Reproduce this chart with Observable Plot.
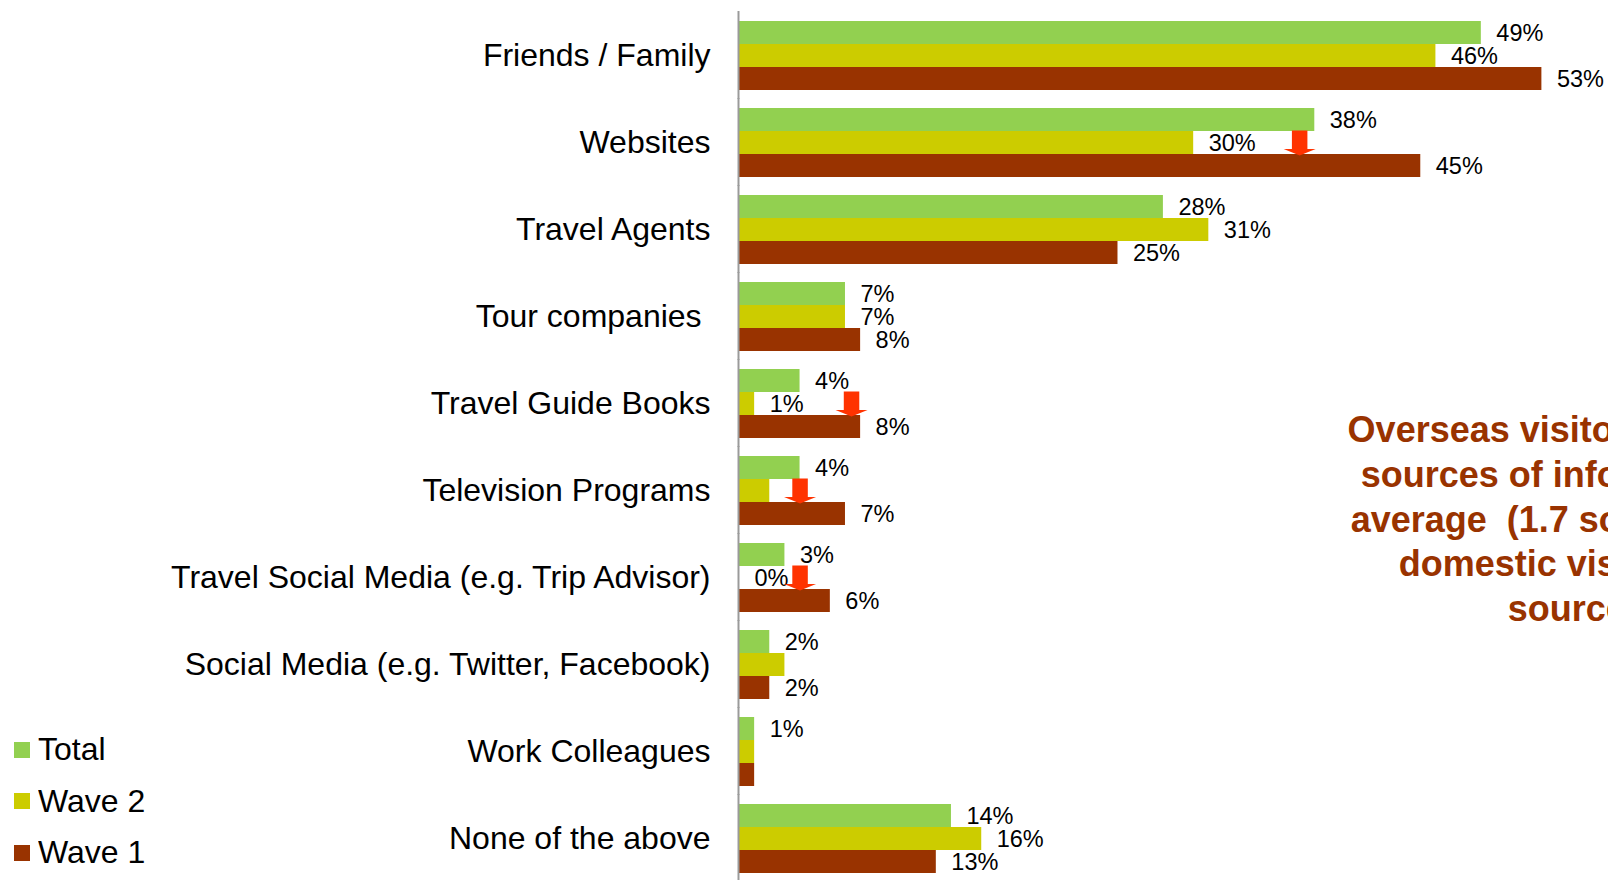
<!DOCTYPE html>
<html>
<head>
<meta charset="utf-8">
<script src="https://cdn.jsdelivr.net/npm/d3@7"></script>
<script src="https://cdn.jsdelivr.net/npm/@observablehq/plot@0.6"></script>
<style>
  body { margin: 0; background: #fff; }
  #wrap { position: relative; width: 1608px; height: 880px; overflow: hidden; font-family: "Liberation Sans", Arial, sans-serif; }
  #legend { position: absolute; left: 14px; top: 724px; }
  .lg-swatches { font-family: "Liberation Sans", Arial, sans-serif; font-size: 32px; margin: 0; color: #000; }
  .lg-swatch { height: 51.5px; padding: 0 !important; display: flex; align-items: center; }
  .lg-swatch > svg { margin-right: 8px; }
</style>
</head>
<body>
<div id="wrap"><div id="chart"></div><div id="legend"></div></div>
<script>
// ---- data ----
const categories = [
  "Friends / Family",
  "Websites",
  "Travel Agents",
  "Tour companies\u00a0",
  "Travel Guide Books",
  "Television Programs",
  "Travel Social Media (e.g. Trip Advisor)",
  "Social Media (e.g. Twitter, Facebook)",
  "Work Colleagues",
  "None of the above"
];
const series = ["Total", "Wave 2", "Wave 1"];
const seriesColors = ["#92D050", "#CCCC00", "#993300"];

const total = [49, 38, 28, 7, 4, 4, 3, 2, 1, 14];
const wave2 = [46, 30, 31, 7, 1, 2, 0, 3, 1, 16];
const wave1 = [53, 45, 25, 8, 8, 7, 6, 2, 1, 13];

// data labels shown in the reference (null = no label shown)
const totalLabels = ["49%", "38%", "28%", "7%", "4%", "4%", "3%", "2%", "1%", "14%"];
const wave2Labels = ["46%", "30%", "31%", "7%", "1%", null, "0%", null, null, "16%"];
const wave1Labels = ["53%", "45%", "25%", "8%", "8%", "7%", "6%", "2%", null, "13%"];

// red "significant drop" arrows
const arrowCategories = ["Websites", "Travel Guide Books", "Television Programs", "Travel Social Media (e.g. Trip Advisor)"];
const arrowValues = [37, 7.4, 4, 4];

// side note
const noteCategory = "Television Programs";
const noteValue = 55.7;
const noteText = "Overseas visitors use more\nsources of information on\naverage \u00a0(1.7 sources) than\ndomestic visitors (1.3\nsources)";

// ---- build tables ----
const valuesBySeries = [total, wave2, wave1];
const labelsBySeries = [totalLabels, wave2Labels, wave1Labels];
const data = [];
categories.forEach((c, i) => {
  series.forEach((s, j) => {
    data.push({category: c, series: s, value: valuesBySeries[j][i], label: labelsBySeries[j][i]});
  });
});
const arrowData = arrowCategories.map((c, i) => ({category: c, series: "Wave 2", x: arrowValues[i]}));
const noteData = [{category: noteCategory, x: noteValue, text: noteText}];

const blockArrow = {
  draw(ctx, l) {
    const sw = 7.75, hw = 16, hh = 6.5;
    ctx.moveTo(-sw, 0);
    ctx.lineTo(-sw, -(l - hh));
    ctx.lineTo(-hw, -(l - hh));
    ctx.lineTo(0, -l);
    ctx.lineTo(hw, -(l - hh));
    ctx.lineTo(sw, -(l - hh));
    ctx.lineTo(sw, 0);
    ctx.closePath();
  }
};

const chart = Plot.plot({
  width: 1608,
  height: 880,
  marginLeft: 739,
  marginRight: 0,
  marginTop: 11,
  marginBottom: -2,
  style: {fontFamily: '"Liberation Sans", Arial, sans-serif', fontSize: "32px", color: "#000", background: "#fff", overflow: "visible"},
  x: {domain: [0, 57.4], axis: null},
  y: {domain: series, padding: 0, axis: null},
  fy: {domain: categories, paddingInner: 0.2, paddingOuter: 0.1, label: null, tickSize: 0, tickPadding: 29, axis: "left"},
  color: {domain: series, range: seriesColors},
  marks: [
    Plot.barX(data, {fy: "category", y: "series", x1: 0, x2: "value", fill: "series"}),
    Plot.ruleX([0], {stroke: "#9a9a9a", strokeWidth: 2, dx: -1, insetTop: -9, insetBottom: -9}),
    Plot.text(data.filter(d => d.label), {fy: "category", y: "series", x: "value", text: "label", textAnchor: "start", dx: 15, fontSize: 23.5, fill: "#000"}),
    Plot.vector(arrowData, {fy: "category", y: "series", x: "x", length: 25, rotate: 180, shape: blockArrow, fill: "#FF3300", stroke: "none", strokeWidth: 0}),
    Plot.text(noteData, {fy: "category", x: "x", frameAnchor: "bottom", dy: 95.5, text: "text", textAnchor: "middle", lineHeight: 1.24, fontSize: 36, fontWeight: "bold", fill: "#993300"})
  ]
});
document.getElementById("chart").appendChild(chart);

const legend = Plot.legend({
  color: {domain: series, range: seriesColors},
  legend: "swatches",
  columns: 1,
  swatchSize: 16,
  className: "lg"
});
document.getElementById("legend").appendChild(legend);
</script>
</body>
</html>
